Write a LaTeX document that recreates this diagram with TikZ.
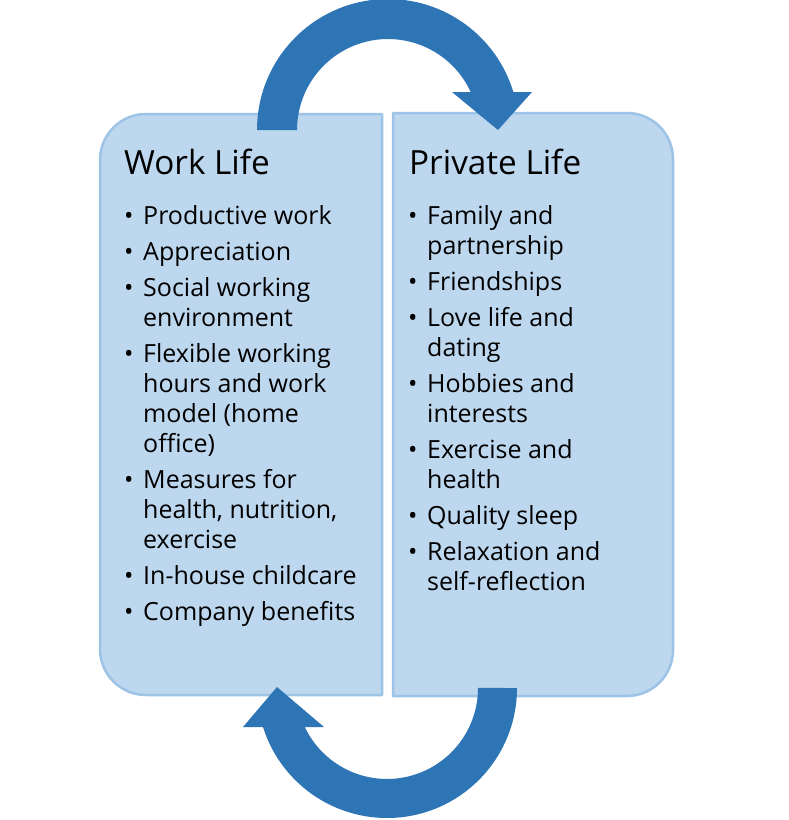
\documentclass[tikz,border=0pt]{standalone}
\usepackage{fontspec}
\setmainfont{Open Sans}
\definecolor{boxfill}{HTML}{BDD7EE}
\definecolor{boxline}{HTML}{9DC3E6}
\definecolor{arrowblue}{HTML}{2E75B6}
\tikzset{
  panel/.style={draw=boxline, fill=boxfill, line width=2.5pt, line join=round},
  bigarrow/.style={fill=arrowblue, draw=none},
  paneltitle/.style={anchor=base west, inner sep=0pt, font=\fontsize{33.3}{40}\selectfont},
  itemtext/.style={anchor=base west, inner sep=0pt, font=\fontsize{25}{30}\selectfont},
  bulletdot/.style={anchor=base west, inner sep=0pt, font=\fontsize{25}{30}\selectfont},
}
\newcommand\listitem[4]{\node[bulletdot] (#1b) at (#2-19,#3) {•};\node[itemtext] (#1) at (#2,#3) {#4};}
\newcommand\listcont[4]{\node[itemtext] (#1) at (#2,#3) {#4};}
\begin{document}
\begin{tikzpicture}[x=1pt,y=-1pt]
\useasboundingbox (0,0) rectangle (789,820);
% panels
\path[panel] (382,114) -- (146,114) arc[start angle=270, end angle=180, radius=46]
  -- (100,649) arc[start angle=180, end angle=90, radius=46] -- (382,695) -- cycle;
\path[panel] (393,113) -- (627,113) arc[start angle=270, end angle=360, radius=46]
  -- (673,650) arc[start angle=0, end angle=90, radius=46] -- (393,696) -- cycle;
% arrows
\path[bigarrow] (257,130) arc[start angle=180, end angle=343.14, radius=131]
  -- (532,92) -- (498,130) -- (452,92) -- (470.7,92)
  arc[start angle=335.3, end angle=180, radius=91] -- cycle;
\path[bigarrow] (517,688) arc[start angle=0, end angle=162.54, radius=130]
  -- (243,727) -- (277,687) -- (324,727) -- (304.8,727)
  arc[start angle=154.6, end angle=0, radius=91] -- cycle;
% titles
\node[paneltitle] (wtitle) at (124,174) {Work Life};
\node[paneltitle] (ptitle) at (409,174) {Private Life};
% work life items
\listitem{w1}{143}{224}{Productive work}
\listitem{w2}{143}{260}{Appreciation}
\listitem{w3}{143}{296}{Social working}
\listcont{w3x}{143}{326}{environment}
\listitem{w4}{143}{362}{Flexible working}
\listcont{w4x}{143}{392}{hours and work}
\listcont{w4y}{143}{422}{model (home}
\listcont{w4z}{143}{452}{office)}
\listitem{w5}{143}{488}{Measures for}
\listcont{w5x}{143}{518}{health, nutrition,}
\listcont{w5y}{143}{548}{exercise}
\listitem{w6}{143}{584}{In-house childcare}
\listitem{w7}{143}{620}{Company benefits}
% private life items
\listitem{p1}{427}{224}{Family and}
\listcont{p1x}{427}{254}{partnership}
\listitem{p2}{427}{290}{Friendships}
\listitem{p3}{427}{326}{Love life and}
\listcont{p3x}{427}{356}{dating}
\listitem{p4}{427}{392}{Hobbies and}
\listcont{p4x}{427}{422}{interests}
\listitem{p5}{427}{458}{Exercise and}
\listcont{p5x}{427}{488}{health}
\listitem{p6}{427}{524}{Quality sleep}
\listitem{p7}{427}{560}{Relaxation and}
\listcont{p7x}{427}{590}{self-reflection}
\end{tikzpicture}
\end{document}
